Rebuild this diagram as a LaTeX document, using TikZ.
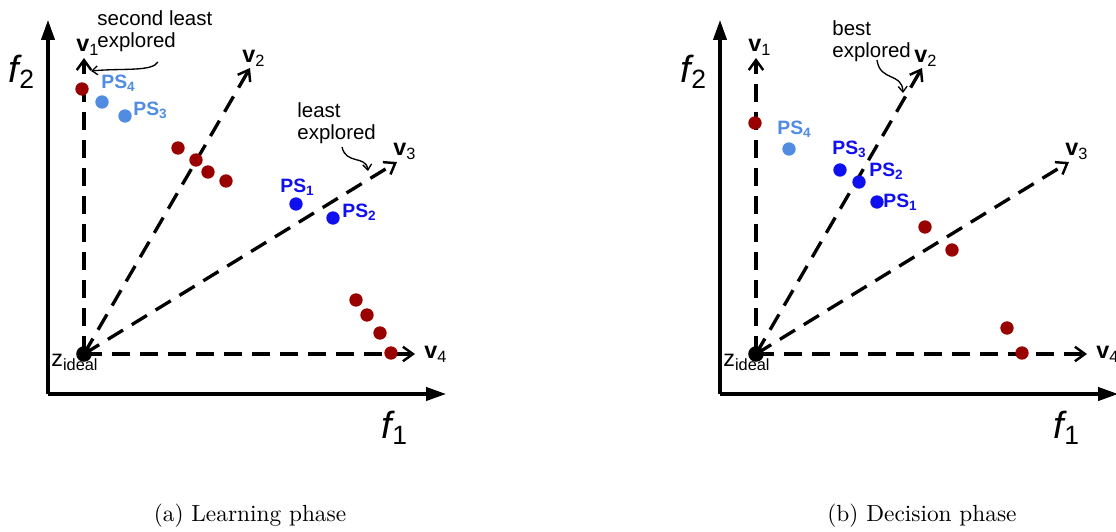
\documentclass[tikz,border=0pt]{standalone}
\usepackage{fontspec}
\newfontfamily\sansfont{Liberation Sans}
\usetikzlibrary{arrows.meta}
\definecolor{dotred}{RGB}{153,0,0}
\definecolor{psblue}{RGB}{15,15,240}
\definecolor{pslight}{RGB}{80,140,225}
\tikzset{
    axisline/.style={line width=1.4pt, -{Triangle[length=9pt,width=6pt]}},
    vecline/.style={line width=1.5pt, dash pattern=on 8pt off 4.6pt, -{Straight Barb[length=4.5pt,width=6.5pt,line width=1.1pt]}},
    notearrow/.style={line width=0.6pt, -{Straight Barb[length=2.5pt,width=4pt]}},
    pdot/.style={circle, inner sep=0pt, minimum size=6pt},
    reddot/.style={pdot, fill=dotred},
    lightdot/.style={pdot, fill=pslight},
    bluedot/.style={pdot, fill=psblue},
    vlbl/.style={inner sep=0pt, anchor=base west, font=\sansfont\fontsize{10.5}{12}\selectfont},
    pslbl/.style={inner sep=0pt, anchor=base west, font=\sansfont\bfseries\fontsize{8.7}{10}\selectfont},
    axlbl/.style={inner sep=0pt, font=\sansfont\itshape\fontsize{17}{20}\selectfont},
    note/.style={inner sep=0pt, anchor=north west, align=left, font=\sansfont\fontsize{9.2}{10.2}\selectfont},
    caption/.style={inner sep=0pt, font=\fontsize{10.5}{12}\selectfont},
}
\begin{document}
\begin{tikzpicture}[x=0.45pt, y=-0.45pt]
\useasboundingbox (0,0) rectangle (1116,532);

% both panels: axes, reference vectors and ideal point
\foreach \p/\dx in {a/0, b/672} {
  \begin{scope}[shift={(\dx,0)}]
    \coordinate (\p o) at (48,394);
    \coordinate (\p fy) at (48,20);
    \coordinate (\p fx) at (446,394);
    \draw[axisline] (\p o) -- (\p fy);
    \draw[axisline] (\p o) -- (\p fx);
    \node[axlbl] (\p f2) at (22,72) {f\textsubscript{\upshape 2}};
    \node[axlbl] (\p f1) at (395,428) {f\textsubscript{\upshape 1}};

    \coordinate (\p z) at (84,354);
    \coordinate (\p t1) at (84,58);
    \coordinate (\p t2) at (250,68);
    \coordinate (\p t3) at (397,162);
    \coordinate (\p t4) at (415,354);
    \foreach \i in {1,...,4}
      \draw[vecline] (\p z) -- (\p t\i);
    \node[vlbl] (\p v1) at (76,52) {\textbf{v}\textsubscript{1}};
    \node[vlbl] (\p v2) at (242,63) {\textbf{v}\textsubscript{2}};
    \node[vlbl] (\p v3) at (393,156) {\textbf{v}\textsubscript{3}};
    \node[vlbl] (\p v4) at (424,359) {\textbf{v}\textsubscript{4}};

    \node[circle, fill=black, inner sep=0pt, minimum size=7pt] (\p zdot) at (\p z) {};
    \node[inner sep=0pt, anchor=base west, font=\sansfont\fontsize{10.5}{12}\selectfont] (\p zl) at (51,367) {z\textsubscript{ideal}};
  \end{scope}
}

% (a) learning phase
\foreach \n/\x/\y in {1/82/89, 2/178/148, 3/196/160, 4/208/172, 5/226/181, 6/356/300, 7/367/315, 8/380/333, 9/391/353}
  \node[reddot] (ar\n) at (\x,\y) {};
\node[lightdot] (aps4) at (102,102) {};
\node[lightdot] (aps3) at (125,116) {};
\node[bluedot] (aps1) at (296,204) {};
\node[bluedot] (aps2) at (333,218) {};
\node[pslbl, text=pslight] (aps4l) at (101,89) {PS\textsubscript{4}};
\node[pslbl, text=pslight] (aps3l) at (133,116) {PS\textsubscript{3}};
\node[pslbl, text=psblue] (aps1l) at (280,193) {PS\textsubscript{1}};
\node[pslbl, text=psblue] (aps2l) at (342,218) {PS\textsubscript{2}};

\node[note] (asecond) at (97,10) {second least\\explored};
\coordinate (asecondend) at (158,62);
\draw[notearrow] (asecondend) .. controls (152,72) and (122,68) .. (91,71);
\node[note] (aleast) at (297,102) {least\\explored};
\coordinate (aleastend) at (342,147);
\draw[notearrow] (aleastend) .. controls (346,165) and (366,155) .. (368,171);

\node[caption] (acap) at (250,516) {(a) Learning phase};

% (b) decision phase
\foreach \n/\x/\y in {1/755/123, 2/925/227, 3/952/250, 4/1007/328, 5/1022/353}
  \node[reddot] (br\n) at (\x,\y) {};
\node[lightdot] (bps4) at (789,149) {};
\node[bluedot] (bps3) at (840,170) {};
\node[bluedot] (bps2) at (859,182) {};
\node[bluedot] (bps1) at (877,202) {};
\node[pslbl, text=pslight] (bps4l) at (777,135) {PS\textsubscript{4}};
\node[pslbl, text=psblue] (bps3l) at (832,155) {PS\textsubscript{3}};
\node[pslbl, text=psblue] (bps2l) at (869,177) {PS\textsubscript{2}};
\node[pslbl, text=psblue] (bps1l) at (883,208) {PS\textsubscript{1}};

\node[note] (bbest) at (832,20) {best\\explored};
\coordinate (bbestend) at (877,60);
\draw[notearrow] (bbestend) .. controls (880,82) and (902,72) .. (903,93);

\node[caption] (bcap) at (922,516) {(b) Decision phase};
\end{tikzpicture}
\end{document}
